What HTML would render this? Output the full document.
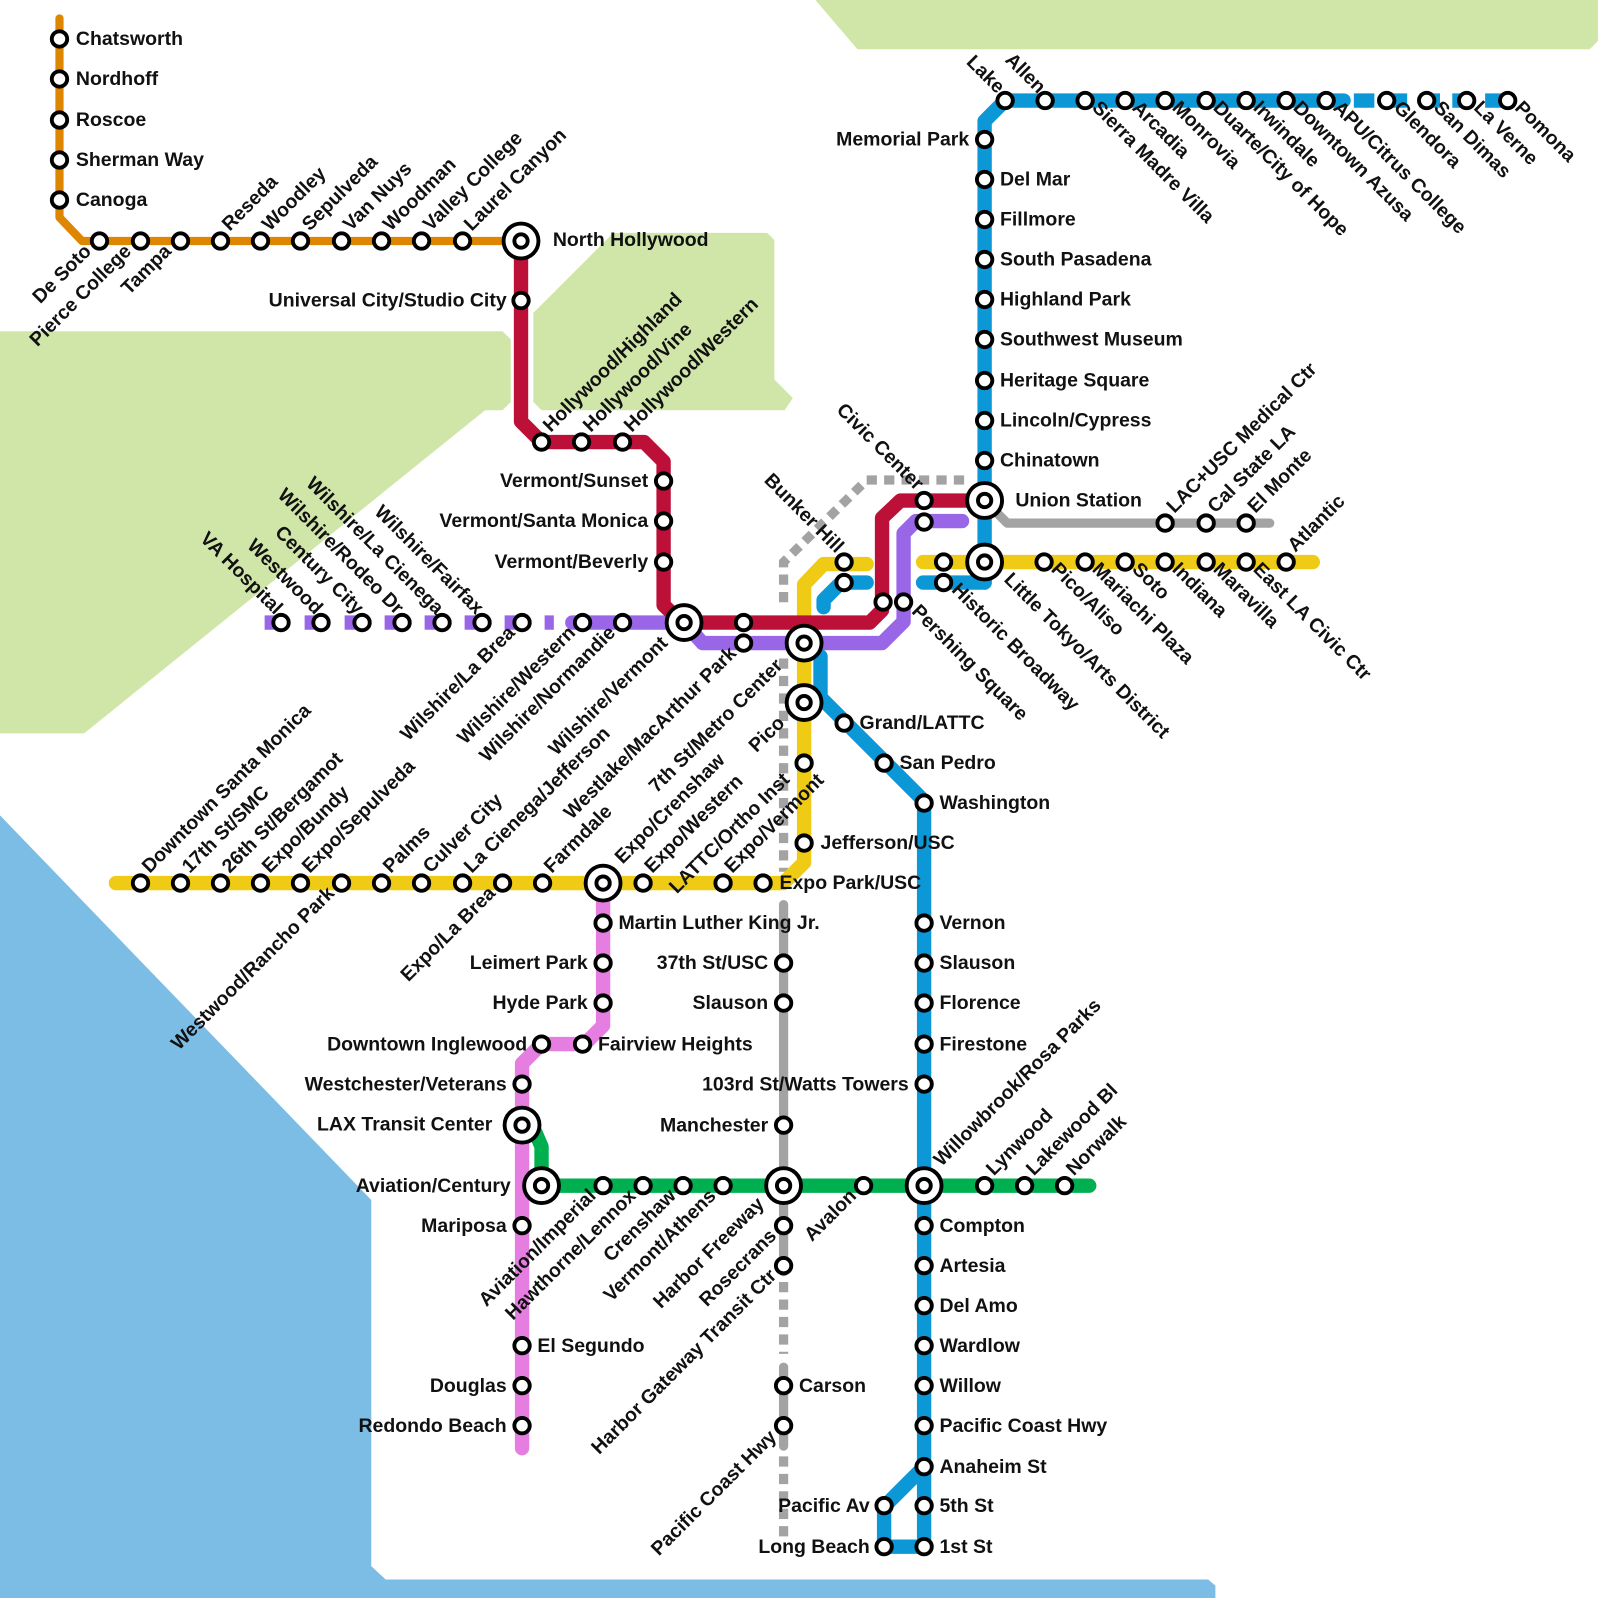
<!DOCTYPE html>
<html><head><meta charset="utf-8"><style>
html,body{margin:0;padding:0;background:#fff}
svg{display:block}
text{font-family:"Liberation Sans",Arial,sans-serif;font-weight:bold;font-size:19px;fill:#111}
.s{fill:#fff;stroke:#000;stroke-width:3.8}
.i{fill:#fff;stroke:#000;stroke-width:3.8}
.e{text-anchor:end}
.ln{fill:none;stroke-linecap:round;stroke-linejoin:round}
.ln.d{stroke-linecap:butt;stroke-linejoin:miter}
</style></head><body>
<svg width="1600" height="1600" viewBox="0 0 1560 1560" xmlns="http://www.w3.org/2000/svg">
<polygon points="795,0 1558,0 1558,40 1550,48 836,48" fill="#d0e6a9"/>
<polygon points="0,323 490,323 498,331 498,392 490,400 473,400 82,715 0,715" fill="#d0e6a9"/>
<polygon points="520,305 598,227 748,227 755,234 755,370 773,388 765,400 528,400 520,392" fill="#d0e6a9"/>
<polygon points="0,795 362,1170 362,1527 376,1540 1178,1540 1185,1546 1185,1558 0,1558" fill="#7cbde6"/>

<g stroke="#a3a3a3" stroke-width="9" fill="none">
<polyline class="ln d" points="940,468 845,468 764,548 764,592" stroke-dasharray="10,7"/>
<polyline class="ln d" points="764,642 764,850" stroke-dasharray="10,7"/>
<polyline class="ln d" points="764,1250 764,1320" stroke-dasharray="10,7"/>
<polyline class="ln d" points="764,1420 764,1505" stroke-dasharray="10,7"/>
</g>
<g class="ln" stroke="#a3a3a3" stroke-width="9">
<polyline class="ln" points="764,882 764,1240"/>
<polyline class="ln" points="764,1333 764,1410"/>
<polyline class="ln" points="960,488 982,510 1238,510"/>
</g>

<polyline class="ln" stroke="#df8600" stroke-width="8" points="58,18 58,212 80,235 508,235"/>
<polyline class="ln" stroke="#00b050" stroke-width="14" points="509,1097 522,1104 528,1118 528,1156 1062,1156"/>
<polyline class="ln" stroke="#e57ee0" stroke-width="14" points="588,861 588,1000 570,1018 528,1018 509,1037 509,1412"/>

<g stroke="#0c97d6" stroke-width="14" fill="none">
<polyline class="ln" points="960,568 960,118 980,98 1310,98"/>
<polyline class="ln d" points="1320,98 1470,98" stroke-dasharray="20,12"/>
<polyline class="ln" points="960,568 900,568"/>
<polyline class="ln" points="845,568 820,568 803,585 803,592"/>
<polyline class="ln" points="800,640 800,680 901,781 901,1430 862,1469 862,1508 901,1508 901,1430"/>
</g>
<polygon points="881,1470 891,1480 881,1492 871,1480" fill="#fff"/>

<g stroke="#f0cb16" stroke-width="14" fill="none">
<polyline class="ln" points="113,861 764,861 784,841 784,570 803,550 845,550"/>
<polyline class="ln" points="900,548 1280,548"/>
</g>

<g stroke="#9a66e8" stroke-width="14" fill="none">
<polyline class="ln d" points="258,607 540,607" stroke-dasharray="22,17"/>
<polyline class="ln" points="558,607 667,607 685,627 860,627 881,606 881,520 893,508 938,508"/>
</g>
<polyline class="ln" stroke="#bd1038" stroke-width="14" points="508,235 508,411 528,431 628,431 647,450 647,590 665,607 848,607 860,595 860,505 878,488 960,488"/>

<g class="s">
<circle cx="58" cy="38" r="7.5"/><circle cx="58" cy="77" r="7.5"/><circle cx="58" cy="117" r="7.5"/><circle cx="58" cy="156" r="7.5"/><circle cx="58" cy="195" r="7.5"/>
<circle cx="97" cy="235" r="7.5"/><circle cx="137" cy="235" r="7.5"/><circle cx="176" cy="235" r="7.5"/><circle cx="215" cy="235" r="7.5"/><circle cx="254" cy="235" r="7.5"/><circle cx="293" cy="235" r="7.5"/><circle cx="333" cy="235" r="7.5"/><circle cx="372" cy="235" r="7.5"/><circle cx="411" cy="235" r="7.5"/><circle cx="451" cy="235" r="7.5"/>
<circle cx="508" cy="293" r="7.5"/><circle cx="528" cy="431" r="7.5"/><circle cx="567" cy="431" r="7.5"/><circle cx="607" cy="431" r="7.5"/>
<circle cx="647" cy="469" r="7.5"/><circle cx="647" cy="508" r="7.5"/><circle cx="647" cy="548" r="7.5"/>
<circle cx="725" cy="607" r="7.5"/><circle cx="725" cy="627" r="7.5"/>
<circle cx="861" cy="587" r="7.5"/><circle cx="881" cy="587" r="7.5"/>
<circle cx="901" cy="488" r="7.5"/><circle cx="901" cy="509" r="7.5"/>
<circle cx="823" cy="548" r="7.5"/><circle cx="823" cy="568" r="7.5"/>
<circle cx="920" cy="548" r="7.5"/><circle cx="920" cy="568" r="7.5"/>
<circle cx="274" cy="607" r="7.5"/><circle cx="313" cy="607" r="7.5"/><circle cx="353" cy="607" r="7.5"/><circle cx="392" cy="607" r="7.5"/><circle cx="431" cy="607" r="7.5"/><circle cx="470" cy="607" r="7.5"/><circle cx="509" cy="607" r="7.5"/><circle cx="568" cy="607" r="7.5"/><circle cx="607" cy="607" r="7.5"/>
<circle cx="1018" cy="548" r="7.5"/><circle cx="1058" cy="548" r="7.5"/><circle cx="1097" cy="548" r="7.5"/><circle cx="1136" cy="548" r="7.5"/><circle cx="1176" cy="548" r="7.5"/><circle cx="1215" cy="548" r="7.5"/><circle cx="1254" cy="548" r="7.5"/>
<circle cx="1136" cy="510" r="7.5"/><circle cx="1176" cy="510" r="7.5"/><circle cx="1215" cy="510" r="7.5"/>
<circle cx="960" cy="449" r="7.5"/><circle cx="960" cy="410" r="7.5"/><circle cx="960" cy="371" r="7.5"/><circle cx="960" cy="331" r="7.5"/><circle cx="960" cy="292" r="7.5"/><circle cx="960" cy="253" r="7.5"/><circle cx="960" cy="214" r="7.5"/><circle cx="960" cy="175" r="7.5"/><circle cx="960" cy="136" r="7.5"/>
<circle cx="980" cy="98" r="7.5"/><circle cx="1019" cy="98" r="7.5"/><circle cx="1058" cy="98" r="7.5"/><circle cx="1097" cy="98" r="7.5"/><circle cx="1136" cy="98" r="7.5"/><circle cx="1176" cy="98" r="7.5"/><circle cx="1215" cy="98" r="7.5"/><circle cx="1254" cy="98" r="7.5"/><circle cx="1293" cy="98" r="7.5"/><circle cx="1352" cy="98" r="7.5"/><circle cx="1391" cy="98" r="7.5"/><circle cx="1430" cy="98" r="7.5"/><circle cx="1470" cy="98" r="7.5"/>
<circle cx="784" cy="744" r="7.5"/><circle cx="784" cy="822" r="7.5"/><circle cx="744" cy="861" r="7.5"/><circle cx="705" cy="861" r="7.5"/><circle cx="627" cy="861" r="7.5"/>
<circle cx="137" cy="861" r="7.5"/><circle cx="176" cy="861" r="7.5"/><circle cx="215" cy="861" r="7.5"/><circle cx="254" cy="861" r="7.5"/><circle cx="293" cy="861" r="7.5"/><circle cx="333" cy="861" r="7.5"/><circle cx="372" cy="861" r="7.5"/><circle cx="411" cy="861" r="7.5"/><circle cx="451" cy="861" r="7.5"/><circle cx="490" cy="861" r="7.5"/><circle cx="529" cy="861" r="7.5"/>
<circle cx="823" cy="705" r="7.5"/><circle cx="862" cy="744" r="7.5"/><circle cx="901" cy="783" r="7.5"/>
<circle cx="901" cy="900" r="7.5"/><circle cx="901" cy="939" r="7.5"/><circle cx="901" cy="978" r="7.5"/><circle cx="901" cy="1018" r="7.5"/><circle cx="901" cy="1057" r="7.5"/>
<circle cx="901" cy="1195" r="7.5"/><circle cx="901" cy="1234" r="7.5"/><circle cx="901" cy="1273" r="7.5"/><circle cx="901" cy="1312" r="7.5"/><circle cx="901" cy="1351" r="7.5"/><circle cx="901" cy="1390" r="7.5"/><circle cx="901" cy="1430" r="7.5"/><circle cx="901" cy="1468" r="7.5"/><circle cx="901" cy="1508" r="7.5"/>
<circle cx="862" cy="1468" r="7.5"/><circle cx="862" cy="1508" r="7.5"/>
<circle cx="960" cy="1156" r="7.5"/><circle cx="999" cy="1156" r="7.5"/><circle cx="1038" cy="1156" r="7.5"/><circle cx="842" cy="1156" r="7.5"/>
<circle cx="588" cy="1156" r="7.5"/><circle cx="627" cy="1156" r="7.5"/><circle cx="666" cy="1156" r="7.5"/><circle cx="705" cy="1156" r="7.5"/>
<circle cx="764" cy="939" r="7.5"/><circle cx="764" cy="978" r="7.5"/><circle cx="764" cy="1097" r="7.5"/><circle cx="764" cy="1195" r="7.5"/><circle cx="764" cy="1234" r="7.5"/><circle cx="764" cy="1351" r="7.5"/><circle cx="764" cy="1390" r="7.5"/>
<circle cx="588" cy="900" r="7.5"/><circle cx="588" cy="939" r="7.5"/><circle cx="588" cy="978" r="7.5"/><circle cx="568" cy="1018" r="7.5"/><circle cx="528" cy="1018" r="7.5"/><circle cx="509" cy="1057" r="7.5"/><circle cx="509" cy="1195" r="7.5"/><circle cx="509" cy="1312" r="7.5"/><circle cx="509" cy="1351" r="7.5"/><circle cx="509" cy="1390" r="7.5"/>
</g>
<g class="i">
<circle cx="508" cy="235" r="17"/><circle cx="508" cy="235" r="6.5"/>
<circle cx="667" cy="607" r="17"/><circle cx="667" cy="607" r="6.5"/>
<circle cx="784" cy="627" r="17"/><circle cx="784" cy="627" r="6.5"/>
<circle cx="784" cy="685" r="17"/><circle cx="784" cy="685" r="6.5"/>
<circle cx="960" cy="488" r="17"/><circle cx="960" cy="488" r="6.5"/>
<circle cx="960" cy="548" r="17"/><circle cx="960" cy="548" r="6.5"/>
<circle cx="588" cy="861" r="17"/><circle cx="588" cy="861" r="6.5"/>
<circle cx="509" cy="1097" r="17"/><circle cx="509" cy="1097" r="6.5"/>
<circle cx="528" cy="1156" r="17"/><circle cx="528" cy="1156" r="6.5"/>
<circle cx="764" cy="1156" r="17"/><circle cx="764" cy="1156" r="6.5"/>
<circle cx="901" cy="1156" r="17"/><circle cx="901" cy="1156" r="6.5"/>
</g>

<text x="74" y="44">Chatsworth</text><text x="74" y="83">Nordhoff</text><text x="74" y="123">Roscoe</text><text x="74" y="162">Sherman Way</text><text x="74" y="201">Canoga</text>
<text x="539" y="240">North Hollywood</text>
<text class="e" x="494" y="299">Universal City/Studio City</text>
<text class="e" x="632" y="475">Vermont/Sunset</text><text class="e" x="632" y="514">Vermont/Santa Monica</text><text class="e" x="632" y="554">Vermont/Beverly</text>
<text class="e" x="945" y="142">Memorial Park</text>
<text x="975" y="181">Del Mar</text><text x="975" y="220">Fillmore</text><text x="975" y="259">South Pasadena</text><text x="975" y="298">Highland Park</text><text x="975" y="337">Southwest Museum</text><text x="975" y="377">Heritage Square</text><text x="975" y="416">Lincoln/Cypress</text><text x="975" y="455">Chinatown</text>
<text x="990" y="494">Union Station</text>
<text x="838" y="711">Grand/LATTC</text><text x="877" y="750">San Pedro</text><text x="916" y="789">Washington</text>
<text x="800" y="828">Jefferson/USC</text><text x="760" y="867">Expo Park/USC</text>
<text x="916" y="906">Vernon</text><text x="916" y="945">Slauson</text><text x="916" y="984">Florence</text><text x="916" y="1024">Firestone</text>
<text class="e" x="886" y="1063">103rd St/Watts Towers</text>
<text x="916" y="1201">Compton</text><text x="916" y="1240">Artesia</text><text x="916" y="1279">Del Amo</text><text x="916" y="1318">Wardlow</text><text x="916" y="1357">Willow</text><text x="916" y="1396">Pacific Coast Hwy</text><text x="916" y="1436">Anaheim St</text><text x="916" y="1474">5th St</text><text x="916" y="1514">1st St</text>
<text class="e" x="848" y="1474">Pacific Av</text><text class="e" x="848" y="1514">Long Beach</text>
<text class="e" x="749" y="945">37th St/USC</text><text class="e" x="749" y="984">Slauson</text><text class="e" x="749" y="1103">Manchester</text>
<text x="779" y="1357">Carson</text>
<text x="603" y="906">Martin Luther King Jr.</text>
<text class="e" x="573" y="945">Leimert Park</text><text class="e" x="573" y="984">Hyde Park</text>
<text x="583" y="1024">Fairview Heights</text><text class="e" x="514" y="1024">Downtown Inglewood</text>
<text class="e" x="494" y="1063">Westchester/Veterans</text><text class="e" x="480" y="1102">LAX Transit Center</text>
<text class="e" x="498" y="1162">Aviation/Century</text><text class="e" x="494" y="1201">Mariposa</text>
<text x="524" y="1318">El Segundo</text><text class="e" x="494" y="1357">Douglas</text><text class="e" x="494" y="1396">Redondo Beach</text>

<g>
<text transform="translate(224,226) rotate(-45)">Reseda</text>
<text transform="translate(263,226) rotate(-45)">Woodley</text>
<text transform="translate(302,226) rotate(-45)">Sepulveda</text>
<text transform="translate(342,226) rotate(-45)">Van Nuys</text>
<text transform="translate(381,226) rotate(-45)">Woodman</text>
<text transform="translate(420,226) rotate(-45)">Valley College</text>
<text transform="translate(460,226) rotate(-45)">Laurel Canyon</text>
<text transform="translate(537,422) rotate(-45)">Hollywood/Highland</text>
<text transform="translate(576,422) rotate(-45)">Hollywood/Vine</text>
<text transform="translate(616,422) rotate(-45)">Hollywood/Western</text>
<text transform="translate(1145,501) rotate(-45)">LAC+USC Medical Ctr</text>
<text transform="translate(1185,501) rotate(-45)">Cal State LA</text>
<text transform="translate(1224,501) rotate(-45)">El Monte</text>
<text transform="translate(1263,539) rotate(-45)">Atlantic</text>
<text transform="translate(146,852) rotate(-45)">Downtown Santa Monica</text>
<text transform="translate(185,852) rotate(-45)">17th St/SMC</text>
<text transform="translate(224,852) rotate(-45)">26th St/Bergamot</text>
<text transform="translate(263,852) rotate(-45)">Expo/Bundy</text>
<text transform="translate(302,852) rotate(-45)">Expo/Sepulveda</text>
<text transform="translate(381,852) rotate(-45)">Palms</text>
<text transform="translate(420,852) rotate(-45)">Culver City</text>
<text transform="translate(460,852) rotate(-45)">La Cienega/Jefferson</text>
<text transform="translate(538,852) rotate(-45)">Farmdale</text>
<text transform="translate(607,843) rotate(-45)">Expo/Crenshaw</text>
<text transform="translate(636,852) rotate(-45)">Expo/Western</text>
<text transform="translate(660,872) rotate(-45)">LATTC/Ortho Inst</text>
<text transform="translate(714,852) rotate(-45)">Expo/Vermont</text>
<text transform="translate(918,1138) rotate(-45)">Willowbrook/Rosa Parks</text>
<text transform="translate(969,1147) rotate(-45)">Lynwood</text>
<text transform="translate(1008,1147) rotate(-45)">Lakewood Bl</text>
<text transform="translate(1047,1147) rotate(-45)">Norwalk</text>
</g>
<g>
<text class="e" transform="translate(90,246) rotate(-45)">De Soto</text>
<text class="e" transform="translate(129,246) rotate(-45)">Pierce College</text>
<text class="e" transform="translate(168,246) rotate(-45)">Tampa</text>
<text class="e" transform="translate(503,618) rotate(-45)">Wilshire/La Brea</text>
<text class="e" transform="translate(562,618) rotate(-45)">Wilshire/Western</text>
<text class="e" transform="translate(601,618) rotate(-45)">Wilshire/Normandie</text>
<text class="e" transform="translate(652,628) rotate(-45)">Wilshire/Vermont</text>
<text class="e" transform="translate(719,638) rotate(-45)">Westlake/MacArthur Park</text>
<text class="e" transform="translate(764,650) rotate(-45)">7th St/Metro Center</text>
<text class="e" transform="translate(766,706) rotate(-45)">Pico</text>
<text class="e" transform="translate(327,872) rotate(-45)">Westwood/Rancho Park</text>
<text class="e" transform="translate(484,872) rotate(-45)">Expo/La Brea</text>
<text class="e" transform="translate(582,1167) rotate(-45)">Aviation/Imperial</text>
<text class="e" transform="translate(621,1167) rotate(-45)">Hawthorne/Lennox</text>
<text class="e" transform="translate(660,1167) rotate(-45)">Crenshaw</text>
<text class="e" transform="translate(699,1167) rotate(-45)">Vermont/Athens</text>
<text class="e" transform="translate(746,1175) rotate(-45)">Harbor Freeway</text>
<text class="e" transform="translate(758,1206) rotate(-45)">Rosecrans</text>
<text class="e" transform="translate(758,1245) rotate(-45)">Harbor Gateway Transit Ctr</text>
<text class="e" transform="translate(758,1402) rotate(-45)">Pacific Coast Hwy</text>
<text class="e" transform="translate(836,1167) rotate(-45)">Avalon</text>
</g>
<g>
<text class="e" transform="translate(268,600) rotate(45)">VA Hospital</text>
<text class="e" transform="translate(307,600) rotate(45)">Westwood</text>
<text class="e" transform="translate(347,600) rotate(45)">Century City</text>
<text class="e" transform="translate(386,600) rotate(45)">Wilshire/Rodeo Dr</text>
<text class="e" transform="translate(425,600) rotate(45)">Wilshire/La Cienega</text>
<text class="e" transform="translate(464,600) rotate(45)">Wilshire/Fairfax</text>
<text class="e" transform="translate(972,92) rotate(45)">Lake</text>
<text class="e" transform="translate(1012,92) rotate(45)">Allen</text>
<text class="e" transform="translate(893,479) rotate(45)">Civic Center</text>
<text class="e" transform="translate(815,540) rotate(45)">Bunker Hill</text>
</g>
<g>
<text transform="translate(1064,106) rotate(45)">Sierra Madre Villa</text>
<text transform="translate(1103,106) rotate(45)">Arcadia</text>
<text transform="translate(1142,106) rotate(45)">Monrovia</text>
<text transform="translate(1182,106) rotate(45)">Duarte/City of Hope</text>
<text transform="translate(1221,106) rotate(45)">Irwindale</text>
<text transform="translate(1260,106) rotate(45)">Downtown Azusa</text>
<text transform="translate(1299,106) rotate(45)">APU/Citrus College</text>
<text transform="translate(1358,106) rotate(45)">Glendora</text>
<text transform="translate(1397,106) rotate(45)">San Dimas</text>
<text transform="translate(1436,106) rotate(45)">La Verne</text>
<text transform="translate(1476,106) rotate(45)">Pomona</text>
<text transform="translate(927,576) rotate(45)">Historic Broadway</text>
<text transform="translate(978,566) rotate(45)">Little Tokyo/Arts District</text>
<text transform="translate(1024,556) rotate(45)">Pico/Aliso</text>
<text transform="translate(1064,556) rotate(45)">Mariachi Plaza</text>
<text transform="translate(1103,556) rotate(45)">Soto</text>
<text transform="translate(1142,556) rotate(45)">Indiana</text>
<text transform="translate(1182,556) rotate(45)">Maravilla</text>
<text transform="translate(1221,556) rotate(45)">East LA Civic Ctr</text>
<text transform="translate(888,597) rotate(45)">Pershing Square</text>
</g>
</svg>
</body></html>
